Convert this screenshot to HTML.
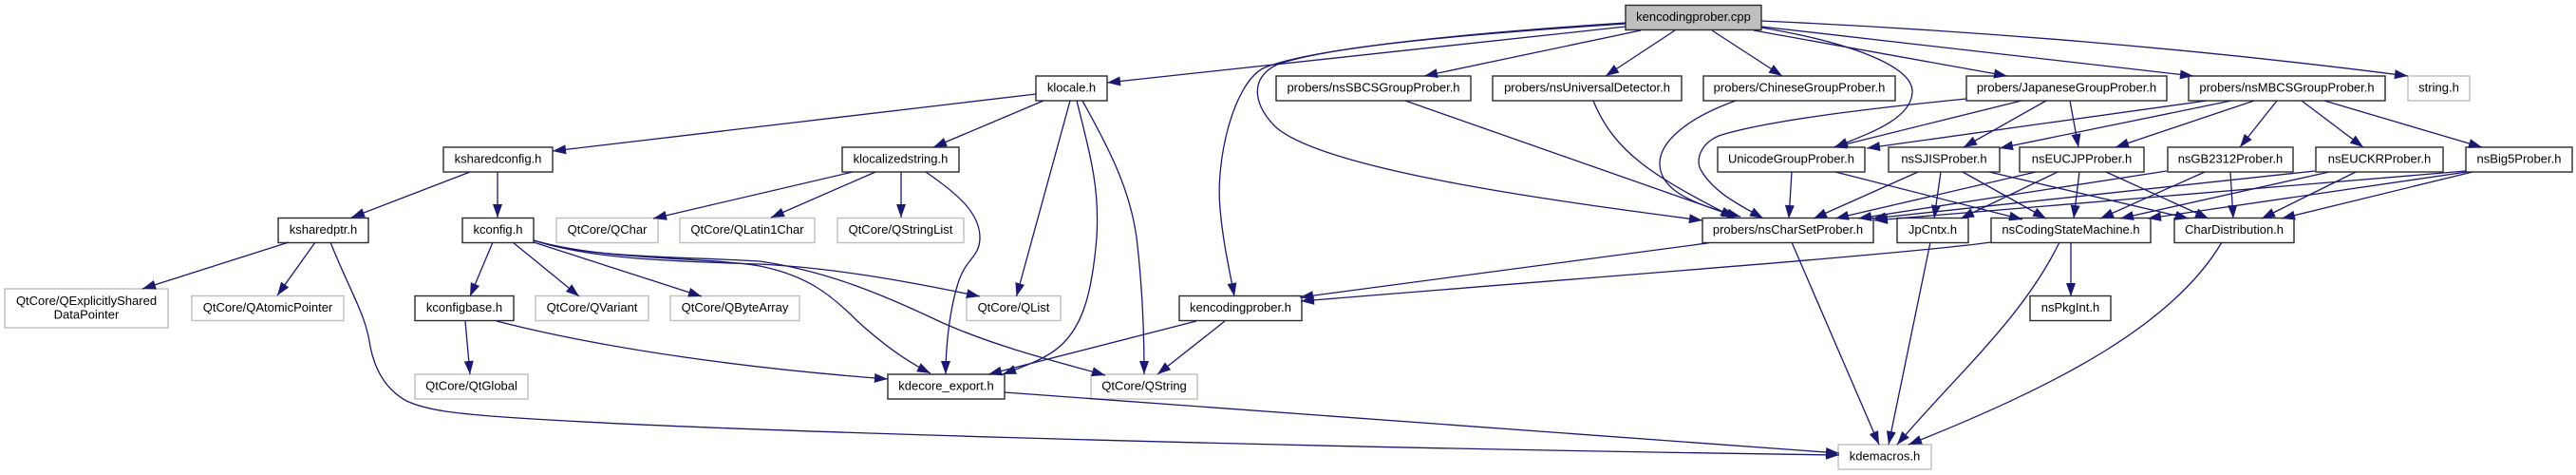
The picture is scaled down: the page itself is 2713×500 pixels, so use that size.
<!DOCTYPE html>
<html>
<head>
<meta charset="utf-8">
<title>kencodingprober.cpp</title>
<style>
html,body{margin:0;padding:0;background:#fff;width:2713px;height:500px;overflow:hidden}
svg{display:block}
text{font-family:"Liberation Sans",sans-serif;font-size:13px;fill:#000;text-anchor:middle}
.n{fill:#fff;stroke:#2b2b2b;stroke-width:1.4}
.g{fill:#fff;stroke:#bfbfbf;stroke-width:1.4}
.r{fill:#bfbfbf;stroke:#2b2b2b;stroke-width:1.4}
.e path{fill:none;stroke:#191970;stroke-width:1.3;marker-end:url(#a)}
</style>
</head>
<body>
<svg width="2713" height="500" viewBox="0 0 2713 500" xmlns="http://www.w3.org/2000/svg">
<defs>
<marker id="a" markerUnits="userSpaceOnUse" markerWidth="16" markerHeight="12" refX="14" refY="5" orient="auto" overflow="visible">
<path d="M0 0L14 5L0 10Z" fill="#191970"/>
</marker>
</defs>

<!-- nodes -->
<rect class="r" x="1712" y="5.5" width="143" height="26"/><text x="1783.5" y="22">kencodingprober.cpp</text>
<rect class="n" x="1091" y="80" width="75" height="26"/><text x="1128.5" y="96.5">klocale.h</text>
<rect class="n" x="1344" y="80" width="205" height="26"/><text x="1446.5" y="96.5">probers/nsSBCSGroupProber.h</text>
<rect class="n" x="1572" y="80" width="199" height="26"/><text x="1671.5" y="96.5">probers/nsUniversalDetector.h</text>
<rect class="n" x="1794" y="80" width="202" height="26"/><text x="1895" y="96.5">probers/ChineseGroupProber.h</text>
<rect class="n" x="2071" y="80" width="211" height="26"/><text x="2176.5" y="96.5">probers/JapaneseGroupProber.h</text>
<rect class="n" x="2305" y="80" width="207" height="26"/><text x="2408.5" y="96.5">probers/nsMBCSGroupProber.h</text>
<rect class="g" x="2536" y="80" width="65" height="26"/><text x="2568.5" y="96.5">string.h</text>

<rect class="n" x="467" y="155" width="115" height="26"/><text x="524.5" y="171.5">ksharedconfig.h</text>
<rect class="n" x="887" y="155" width="123" height="26"/><text x="948.5" y="171.5">klocalizedstring.h</text>
<rect class="n" x="1809" y="155" width="155" height="26"/><text x="1886.5" y="171.5">UnicodeGroupProber.h</text>
<rect class="n" x="1989" y="155" width="117" height="26"/><text x="2047.5" y="171.5">nsSJISProber.h</text>
<rect class="n" x="2127" y="155" width="131" height="26"/><text x="2192.5" y="171.5">nsEUCJPProber.h</text>
<rect class="n" x="2283" y="155" width="132" height="26"/><text x="2349" y="171.5">nsGB2312Prober.h</text>
<rect class="n" x="2439" y="155" width="134" height="26"/><text x="2506" y="171.5">nsEUCKRProber.h</text>
<rect class="n" x="2597" y="155" width="112" height="26"/><text x="2653" y="171.5">nsBig5Prober.h</text>

<rect class="n" x="293" y="229.5" width="95" height="26"/><text x="340.5" y="246">ksharedptr.h</text>
<rect class="n" x="487" y="229.5" width="75" height="26"/><text x="524.5" y="246">kconfig.h</text>
<rect class="g" x="586" y="229.5" width="107" height="26"/><text x="639.5" y="246">QtCore/QChar</text>
<rect class="g" x="716" y="229.5" width="142" height="26"/><text x="787" y="246">QtCore/QLatin1Char</text>
<rect class="g" x="882" y="229.5" width="133" height="26"/><text x="948.5" y="246">QtCore/QStringList</text>
<rect class="n" x="1793" y="229.5" width="180" height="26"/><text x="1883" y="246">probers/nsCharSetProber.h</text>
<rect class="n" x="1998" y="229.5" width="75" height="26"/><text x="2035.5" y="246">JpCntx.h</text>
<rect class="n" x="2097" y="229.5" width="168" height="26"/><text x="2181" y="246">nsCodingStateMachine.h</text>
<rect class="n" x="2290" y="229.5" width="126" height="26"/><text x="2353" y="246">CharDistribution.h</text>

<rect class="g" x="5" y="304" width="172" height="41"/><text x="91" y="321">QtCore/QExplicitlyShared</text><text x="91" y="335.5">DataPointer</text>
<rect class="g" x="202" y="311.5" width="160" height="26"/><text x="282" y="328">QtCore/QAtomicPointer</text>
<rect class="n" x="437" y="311.5" width="104" height="26"/><text x="489" y="328">kconfigbase.h</text>
<rect class="g" x="564" y="311.5" width="119" height="26"/><text x="623.5" y="328">QtCore/QVariant</text>
<rect class="g" x="706" y="311.5" width="136" height="26"/><text x="774" y="328">QtCore/QByteArray</text>
<rect class="g" x="1018" y="311.5" width="99" height="26"/><text x="1067.5" y="328">QtCore/QList</text>
<rect class="n" x="1242" y="311.5" width="129" height="26"/><text x="1306.5" y="328">kencodingprober.h</text>
<rect class="n" x="2138" y="311.5" width="85" height="26"/><text x="2180.5" y="328">nsPkgInt.h</text>

<rect class="g" x="437" y="394" width="119" height="26"/><text x="496.5" y="410.5">QtCore/QtGlobal</text>
<rect class="n" x="935" y="394" width="123" height="26"/><text x="996.5" y="410.5">kdecore_export.h</text>
<rect class="g" x="1149" y="394" width="112" height="26"/><text x="1205" y="410.5">QtCore/QString</text>
<rect class="g" x="1936" y="468" width="98" height="26"/><text x="1985" y="484.5">kdemacros.h</text>

<!-- edges -->
<g class="e">
<path d="M1712 28L1166 87"/>
<path d="M1728 32L1500 80"/>
<path d="M1764 32L1691 80"/>
<path d="M1803 32L1877 80"/>
<path d="M1847 32L2114 80"/>
<path d="M1855 28L2310 80"/>
<path d="M1855 22C2080 32 2320 52 2536 80"/>
<path d="M1855 29C1950 45 2015 70 2014 97C2013 125 1970 140 1932 155"/>
<path d="M1712 25C1560 35 1400 48 1345 68C1315 82 1320 112 1345 135C1400 180 1640 212 1793 232"/>
<path d="M1712 24C1560 34 1380 50 1330 72C1298 90 1280 170 1285 220C1288 255 1295 285 1300 312"/>

<path d="M1091 99L582 159"/>
<path d="M1099 106L983 155"/>
<path d="M1127 106L1070.5 312"/>
<path d="M1134 106C1150 170 1158 200 1155 250C1150 310 1140 340 1121 360C1105 377 1080 385 1056 394"/>
<path d="M1140 106C1170 160 1190 200 1197 250C1203 300 1205 350 1205 394"/>

<path d="M495 181L370 229"/>
<path d="M524 181L524 229"/>
<path d="M898 181L688 230"/>
<path d="M922 181L812 229"/>
<path d="M949 181L949 229"/>
<path d="M975 181C1010 205 1032 225 1032 250C1032 270 1018 272 1010 295C1000 325 996 365 996 394"/>

<path d="M304 255L150 304"/>
<path d="M332 255L292 311"/>
<path d="M348 255C370 310 385 330 390 365C396 395 410 412 428 422C450 432 480 435 517 438C700 452 1300 470 1937 479"/>

<path d="M519 255L495 312"/>
<path d="M540 255L610 312"/>
<path d="M562 255L739 312"/>
<path d="M562 253C620 272 700 275 800 278C880 282 960 297 1032 312"/>
<path d="M562 253C620 272 720 270 800 275C870 285 930 310 993 340C1050 365 1110 380 1164 395"/>
<path d="M562 253C640 275 740 270 800 280C850 290 875 310 903 338C925 358 950 378 980 393"/>

<path d="M490 338L495 394"/>
<path d="M523 338C640 368 790 388 935 399"/>
<path d="M1260 338L1041 394"/>
<path d="M1290 338L1219 394"/>
<path d="M1058 413L1937 477"/>

<path d="M1480 106L1828 228"/>
<path d="M1678 106C1700 160 1740 185 1826 229"/>
<path d="M1828 106C1775 125 1748 150 1748 172C1748 195 1770 212 1833 228"/>
<path d="M2071 104C1990 112 1870 125 1813 142C1790 150 1785 170 1792 180C1805 202 1830 215 1857 229.7"/>

<path d="M1800 255.7L1369 313"/>
<path d="M2097 255C2000 268 1700 290 1370 317"/>

<path d="M2129 106L1931 155"/>
<path d="M2155 106L2068 155"/>
<path d="M2180 106L2189 155"/>
<path d="M2324 106L1966 156"/>
<path d="M2350 106L2106 156"/>
<path d="M2374 106L2228 155"/>
<path d="M2398 106L2359 155"/>
<path d="M2424 106L2489 155"/>
<path d="M2448 106L2614 155"/>

<path d="M1887 181L1884 230"/>
<path d="M1933 181L2130 231"/>
<path d="M2020 181L1910 230"/>
<path d="M2044 181L2037 230"/>
<path d="M2067 181L2155 230"/>
<path d="M2095 181L2305 230"/>
<path d="M2144 181L1933 230"/>
<path d="M2167 181L2065 230"/>
<path d="M2190 181L2184 230"/>
<path d="M2218 181L2326 230"/>
<path d="M2282 180L1957 230"/>
<path d="M2322 181L2212 230"/>
<path d="M2349 181L2352 230"/>
<path d="M2438 180L1972 230"/>
<path d="M2453 181L2233 230"/>
<path d="M2481 181L2382 230"/>
<path d="M2597 180L1974 232"/>
<path d="M2598 181L2262 230"/>
<path d="M2604 181L2403 230"/>

<path d="M1887 255L1979 468"/>
<path d="M2033 255L1989 468"/>
<path d="M2169 255C2130 335 2060 395 1998 468"/>
<path d="M2181 255L2181 312"/>
<path d="M2340 255C2290 340 2170 405 2010 468"/>
</g>
</svg>
</body>
</html>
